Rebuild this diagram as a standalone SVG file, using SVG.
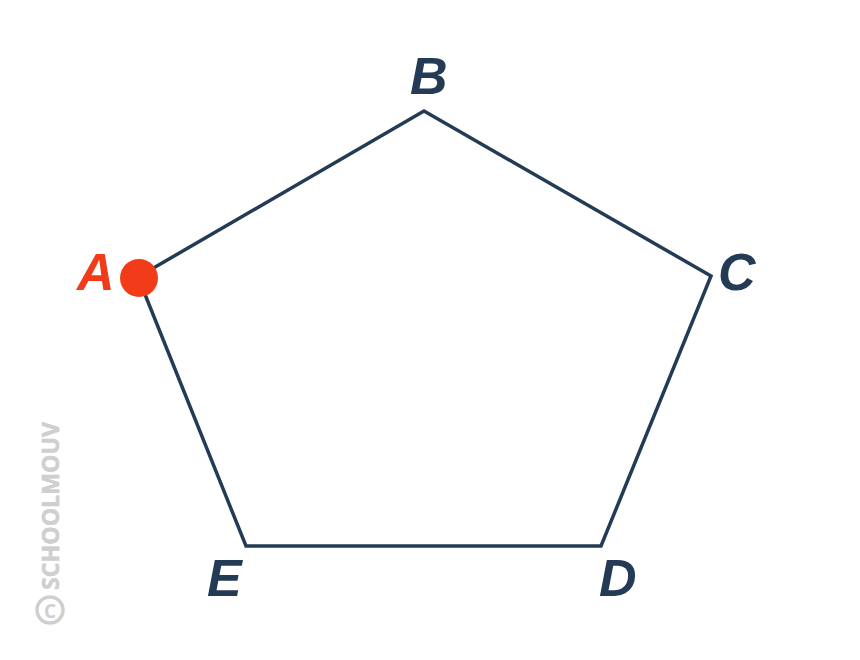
<svg xmlns="http://www.w3.org/2000/svg" width="860" height="660" viewBox="0 0 860 660">
<style>
.lbl{font-family:"Liberation Sans",Arial,sans-serif;font-weight:bold;font-style:italic;font-size:52px;fill:#233b55}
.edge{fill:none;stroke:#233b55;stroke-width:3.5;stroke-linejoin:miter}
.wm{font-family:"Open Sans","Liberation Sans",Arial,sans-serif;font-weight:bold;font-size:24px;fill:#cfcfcf;stroke:#cfcfcf;stroke-width:0.6}
</style>
<rect width="860" height="660" fill="#ffffff"/>
<g id="watermark">
<text class="wm" transform="translate(59,590) rotate(-90)" textLength="168" lengthAdjust="spacingAndGlyphs">SCHOOLMOUV</text>
<circle cx="50" cy="610" r="13" fill="none" stroke="#cfcfcf" stroke-width="3.5"/>
<text x="50" y="617.5" text-anchor="middle" font-family="Open Sans,Liberation Sans,Arial,sans-serif" font-weight="bold" font-size="19" fill="#cfcfcf">C</text>
</g>
<g id="connectors">
<polygon class="edge" points="138,277 424,111 711,276 601,546 246,546"/>
</g>
<g id="A">
<circle cx="139" cy="278" r="19" fill="#f23c19"/>
<text class="lbl" x="77" y="290" style="fill:#f23c19">A</text>
</g>
<g id="B"><text class="lbl" x="410" y="94">B</text></g>
<g id="C"><text class="lbl" x="718" y="290">C</text></g>
<g id="D"><text class="lbl" x="599" y="596">D</text></g>
<g id="E"><text class="lbl" x="207" y="596">E</text></g>
</svg>
